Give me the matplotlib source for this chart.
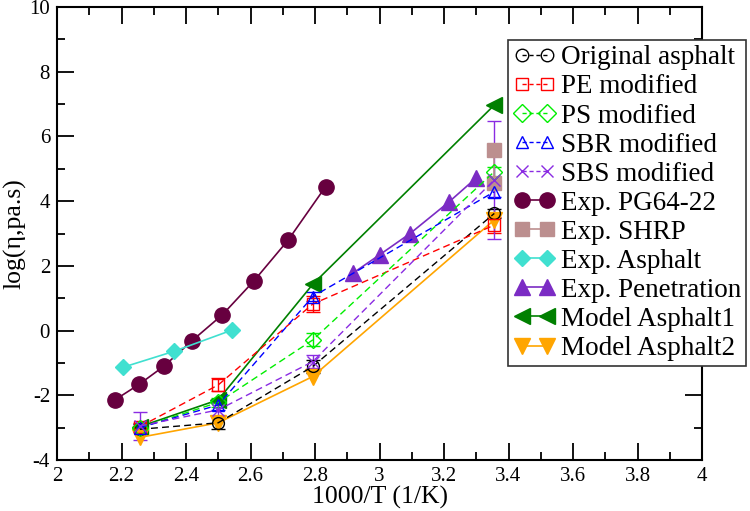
import matplotlib
matplotlib.use("Agg")
import matplotlib.pyplot as plt
from matplotlib.ticker import MultipleLocator
from matplotlib.lines import Line2D

plt.rcParams['font.family'] = ['Liberation Serif', 'DejaVu Serif']
plt.rcParams['axes.unicode_minus'] = False

x_mod = [2.257, 2.5, 2.793, 3.356]
orig_y = [-3.05, -2.85, -1.11, 3.62]
orig_e = [0.1, 0.2, 0.2, 0.15]
pe_y = [-2.97, -1.68, 0.82, 3.26]
pe_e = [0.1, 0.2, 0.25, 0.25]
ps_y = [-3.0, -2.22, -0.29, 4.91]
ps_e = [0.1, 0.15, 0.2, 0.15]
sbr_y = [-3.0, -2.3, 1.05, 4.29]
sbr_e = [0.1, 0.15, 0.15, 0.15]
sbs_y = [-2.95, -2.45, -0.96, 4.66]
sbs_e = [0.43, 0.2, 0.2, 1.83]

pg_x = [2.18, 2.255, 2.333, 2.418, 2.513, 2.611, 2.717, 2.833]
pg_y = [-2.14, -1.66, -1.09, -0.32, 0.49, 1.54, 2.80, 4.45]
shrp_x = [3.356, 3.356]
shrp_y = [5.58, 4.55]
asph_x = [2.206, 2.363, 2.544]
asph_y = [-1.13, -0.64, 0.02]
pen_x = [2.917, 3.0, 3.095, 3.216, 3.299]
pen_y = [1.77, 2.34, 3.0, 3.98, 4.71]
m1_y = [-2.97, -2.14, 1.43, 6.97]
m2_y = [-3.3, -2.85, -1.42, 3.42]

fig = plt.figure(figsize=(7.5, 5.11), dpi=100)
ax = fig.add_axes([57/750, 1-460/511, (702-57)/750, (460-7)/511])

handles = []

def mod(y, e, color, marker, label):
    ax.errorbar(x_mod, y, yerr=e, color=color, ls=(0, (5, 3)), lw=1.0,
                marker=marker, ms=8.5, mfc='none', mec=color, mew=1.0,
                capsize=5, elinewidth=1.0, capthick=1.0)
    handles.append(Line2D([], [], color=color, ls=(0, (3, 2)), lw=1.0, marker=marker,
                          ms=9, mfc='none', mec=color, mew=1.0, label=label))

mod(orig_y, orig_e, 'black', 'o', 'Original asphalt')
mod(pe_y, pe_e, '#ff0000', 's', 'PE modified')
mod(ps_y, ps_e, '#00ee00', 'D', 'PS modified')
mod(sbr_y, sbr_e, '#0000ff', '^', 'SBR modified')
mod(sbs_y, sbs_e, '#8a2be2', 'x', 'SBS modified')

def exp(x, y, color, marker, ms, label):
    h, = ax.plot(x, y, color=color, lw=1.2, marker=marker, ms=ms, label=label)
    handles.append(h)

exp(pg_x, pg_y, '#67003f', 'o', 11, 'Exp. PG64-22')
exp(shrp_x, shrp_y, '#bc8f8f', 's', 10, 'Exp. SHRP')
exp(asph_x, asph_y, '#40e0d0', 'D', 8, 'Exp. Asphalt')
exp(pen_x, pen_y, '#7b2cc4', '^', 11, 'Exp. Penetration')
exp(x_mod, m1_y, '#008000', '<', 11, 'Model Asphalt1')
exp(x_mod, m2_y, '#ffa500', 'v', 11, 'Model Asphalt2')

ax.set_xlim(2, 4)
ax.set_ylim(-4, 10)
ax.xaxis.set_major_locator(MultipleLocator(0.2))
ax.xaxis.set_minor_locator(MultipleLocator(0.1))
ax.yaxis.set_major_locator(MultipleLocator(2))
ax.yaxis.set_minor_locator(MultipleLocator(1))
ax.xaxis.set_major_formatter(matplotlib.ticker.FuncFormatter(lambda v, p: ('%g' % round(v, 1))))
ax.tick_params(which='both', direction='in', top=True, right=True, labelsize=15, width=1.3, pad=5)
ax.tick_params(which='major', length=12)
ax.tick_params(which='minor', length=6)
for s in ax.spines.values():
    s.set_linewidth(1.5)
ax.set_xlabel('1000/T (1/K)', fontsize=18.5, labelpad=0)
ax.set_ylabel('log(η,pa.s)', fontsize=18.5, labelpad=2)

leg = ax.legend(handles=handles, loc='upper left', bbox_to_anchor=(508/750, 1-40/511),
                bbox_transform=fig.transFigure,
                fontsize=19.5, numpoints=2, handlelength=1.55, handletextpad=0.2,
                labelspacing=0.15, borderpad=0.2, borderaxespad=0, fancybox=False,
                framealpha=1, edgecolor='#333333')
leg.get_frame().set_linewidth(1.2)

fig.savefig('out.png', dpi=100)
